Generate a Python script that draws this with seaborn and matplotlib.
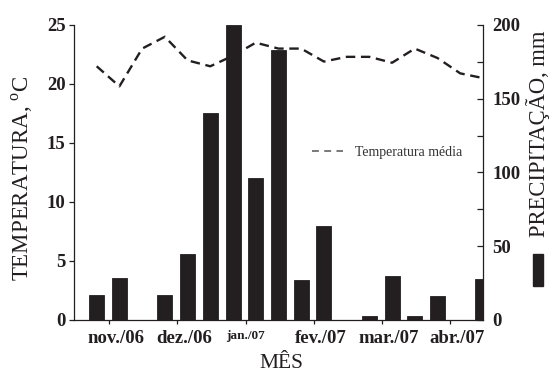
import matplotlib
matplotlib.use("Agg")
import matplotlib.pyplot as plt
from matplotlib.lines import Line2D
from matplotlib.patches import Rectangle
from matplotlib.ticker import MultipleLocator, FixedLocator, FixedFormatter, NullFormatter
import seaborn as sns
import pandas as pd

# ---- data (10-day periods, Nov/06 - Apr/07) ----
periods = list(range(18))
precip_mm = [17, 28.5, 0, 17, 45, 140, 200, 96, 183, 27, 64, 0, 3, 30, 2.5, 16, 0, 28]
temp_c = [21.5, 19.8, 23.0, 24.0, 22.0, 21.5, 22.4, 23.5, 23.0, 23.0,
          21.9, 22.3, 22.3, 21.8, 23.0, 22.2, 20.9, 20.5]
month_ticks = [0.55, 3.55, 6.55, 9.55, 12.55, 15.55]
month_label_pos = [0.86, 3.86, 6.55, 9.86, 12.86, 15.86]
month_labels = ["nov./06", "dez./06", "jan./07", "fev./07", "mar./07", "abr./07"]

df = pd.DataFrame({"periodo": periods, "precip": precip_mm, "temp": temp_c})

sns.set_style("ticks")
plt.rcParams["font.family"] = ["Liberation Serif", "DejaVu Serif"]
plt.rcParams["mathtext.fontset"] = "custom"
plt.rcParams["mathtext.rm"] = "Liberation Serif"

ink = "#231f20"
fig = plt.figure(figsize=(5.5, 3.74), dpi=100)
ax1 = fig.add_axes([0.1345, 0.1444, 0.7436, 0.7888])
ax2 = ax1.twinx()

# temperature line (left axis)
sns.lineplot(data=df, x="periodo", y="temp", ax=ax1, color=ink, lw=1.7,
             linestyle=(0, (4, 2.4)), legend=False)
# precipitation bars (right axis, drawn above the line)
sns.barplot(data=df, x="periodo", y="precip", ax=ax2, native_scale=True,
            width=0.66, color=ink, edgecolor=ink, linewidth=0.6, saturation=1)

ax1.set_xlim(-1, 17)
ax1.set_ylim(0, 25)
ax2.set_ylim(0, 200)

# month tick marks (major, unlabeled) + labels on zero-length minor ticks
ax1.xaxis.remove_overlapping_locs = False
ax1.xaxis.set_major_locator(FixedLocator(month_ticks))
ax1.xaxis.set_major_formatter(NullFormatter())
ax1.xaxis.set_minor_locator(FixedLocator(month_label_pos))
ax1.xaxis.set_minor_formatter(FixedFormatter(month_labels))
ax1.tick_params(axis="x", which="major", direction="out", length=3, width=0.9, colors=ink)
ax1.tick_params(axis="x", which="minor", length=0, pad=7, labelsize=13.5, colors=ink)
for lab in ax1.xaxis.get_minorticklabels():
    lab.set_fontweight("bold")
    if lab.get_text() == "jan./07":
        lab.set_fontsize(9.5)

ax1.set_yticks([0, 5, 10, 15, 20, 25])
ax2.set_yticks([0, 50, 100, 150, 200])
ax2.yaxis.set_minor_locator(MultipleLocator(25))
for t in ax1.get_yticklabels() + ax2.get_yticklabels():
    t.set_fontweight("bold")
    t.set_fontsize(13.5)

ax1.tick_params(axis="y", direction="out", length=3.5, width=0.9, pad=2.5, colors=ink)
ax2.tick_params(axis="y", which="major", direction="in", length=4, width=0.9, pad=7, colors=ink)
ax2.tick_params(axis="y", which="minor", direction="in", length=4, width=0.9, colors=ink)
ax2.tick_params(axis="x", which="both", length=0, labelbottom=False)

for a in (ax1, ax2):
    a.set_xlabel("")
    a.set_ylabel("")
    a.spines["top"].set_visible(False)
    for s in a.spines.values():
        s.set_linewidth(0.9)
        s.set_color(ink)
ax1.spines["right"].set_visible(False)
ax2.spines["left"].set_visible(False)
ax2.spines["bottom"].set_visible(False)

# legend for temperature line
handle = Line2D([0], [0], color="#555555", lw=1.1, linestyle=(0, (4.5, 3.5)))
ax2.legend([handle], ["Temperatura média"], loc="center left",
           bbox_to_anchor=(0.582, 0.569), frameon=False, fontsize=10,
           handlelength=2.2, handletextpad=0.9, labelcolor="#333333",
           borderaxespad=0, borderpad=0)

# axis titles
fig.text(0.040, 0.523, r"TEMPERATURA, $^{\mathrm{o}}$C", rotation=90,
         ha="center", va="center", fontsize=16.5, color=ink)
fig.text(0.978, 0.642, "PRECIPITAÇÃO, mm", rotation=90,
         ha="center", va="center", fontsize=16.3, color=ink)
fig.patches.append(Rectangle((533 / 550, (374 - 286) / 374), 10 / 550, 32 / 374,
                             transform=fig.transFigure, color=ink, figure=fig))
fig.text(0.511, 0.004, "MÊS", ha="center", va="bottom", fontsize=15.5, color=ink)

fig.savefig("out.png", dpi=100)
